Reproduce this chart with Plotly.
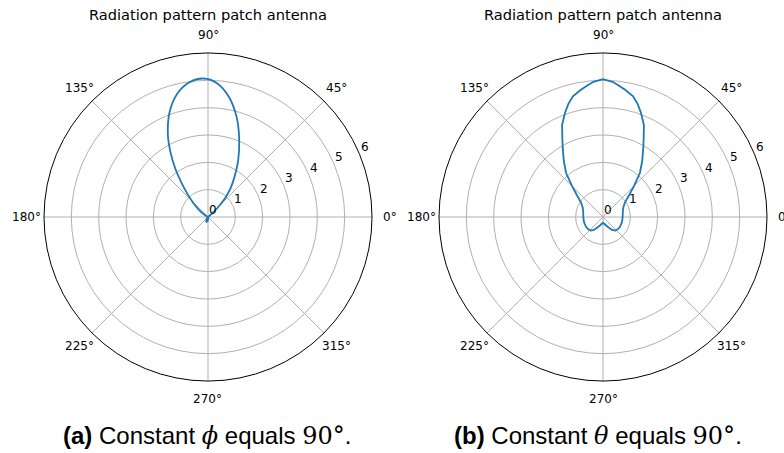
import math
import plotly.graph_objects as go

# ---- data ----
theta_a = [36, 40, 44, 48, 52, 57, 62, 68, 74, 80, 86, 92, 98, 104, 110, 116, 120, 124, 128, 132, 137, 142, 148, 155, 180,
           225, 240, 252, 264, 276, 300, 396]
r_a = [0.0, 0.1, 0.5, 0.95, 1.35, 1.8, 2.35, 3.05, 3.8, 4.45, 4.9, 5.07, 4.97, 4.65, 4.1, 3.35, 2.75, 2.15, 1.55, 1.1, 0.7, 0.4, 0.15, 0.03, 0.0,
       0.03, 0.12, 0.19, 0.14, 0.04, 0.0, 0.0]

theta_b_half = [90, 94, 97, 100, 104, 107, 110, 114, 117, 120, 125, 130, 135, 140, 147, 155, 165, 180, 195, 210, 220, 228, 235, 241, 250, 260, 270]
r_b_half = [5.04, 4.96, 4.84, 4.72, 4.55, 4.33, 4.06, 3.68, 3.28, 2.95, 2.5, 2.1, 1.6, 1.25, 0.95, 0.82, 0.75, 0.72, 0.72, 0.72, 0.70, 0.67, 0.58, 0.45, 0.33, 0.25, 0.21]
# the pattern in (b) is symmetric about 90°/270°
theta_b = theta_b_half + [540 - t for t in reversed(theta_b_half[:-1])]
r_b = r_b_half + list(reversed(r_b_half[:-1]))

angle_ticks = [0, 45, 90, 135, 180, 225, 270, 315]
radial_ticks = [0, 1, 2, 3, 4, 5, 6]
title_text = "Radiation pattern patch antenna"
captions = ["<b>(a)</b> Constant <span style='font-family:DejaVu Serif'><i>ϕ</i></span> equals <span style='font-family:DejaVu Serif'>90°</span>.",
            "<b>(b)</b> Constant <span style='font-family:DejaVu Serif'><i>θ</i></span> equals <span style='font-family:DejaVu Serif'>90°</span>."]

W, H = 784, 453
R = 164
CY = 217
CENTERS = [208, 603]
RMAX = 6
LINE = "#1f77b4"

fig = go.Figure()
fig.add_trace(go.Scatterpolar(theta=theta_a, r=r_a, mode="lines", line=dict(color=LINE, width=1.8, shape="spline"),
                              subplot="polar", showlegend=False))
fig.add_trace(go.Scatterpolar(theta=theta_b, r=r_b, mode="lines", line=dict(color=LINE, width=1.8, shape="linear"),
                              subplot="polar2", showlegend=False))

def polar_cfg(cx):
    return dict(
        domain=dict(x=[(cx - R) / W, (cx + R) / W], y=[1 - (CY + R) / H, 1 - (CY - R) / H]),
        bgcolor="white",
        angularaxis=dict(rotation=0, direction="counterclockwise", tickmode="array", tickvals=angle_ticks,
                         showticklabels=False, ticks="", showline=True, linecolor="black",
                         linewidth=1, gridcolor="#b0b0b0", gridwidth=0.8),
        radialaxis=dict(range=[0, RMAX], tickmode="array", tickvals=radial_ticks, angle=22.5,
                        showticklabels=False, showline=False, ticks="", gridcolor="#b0b0b0", gridwidth=0.8),
    )

fig.update_layout(
    width=W, height=H, margin=dict(l=0, r=0, t=0, b=0),
    paper_bgcolor="white", plot_bgcolor="white",
    polar=polar_cfg(CENTERS[0]), polar2=polar_cfg(CENTERS[1]),
)

LABEL_R = 182
RAD_ANGLE = math.radians(22.5)
for cx in CENTERS:
    # angular tick labels outside the circle (matplotlib style)
    for a in angle_ticks:
        x = cx + LABEL_R * math.cos(math.radians(a))
        y = CY - LABEL_R * math.sin(math.radians(a))
        fig.add_annotation(text=f"{a}°", x=x / W, y=1 - y / H, xref="paper", yref="paper", showarrow=False,
                           xanchor="center", yanchor="middle", font=dict(family="DejaVu Sans", size=12, color="black"))
    # radial tick labels along the 22.5° direction
    for k in radial_ticks:
        x = cx + k * R / RMAX * math.cos(RAD_ANGLE) + 5
        y = CY - k * R / RMAX * math.sin(RAD_ANGLE) - 7.5
        fig.add_annotation(text=str(k), x=x / W, y=1 - y / H, xref="paper", yref="paper", showarrow=False,
                           xanchor="center", yanchor="middle", font=dict(family="DejaVu Sans", size=12, color="black"))
    fig.add_annotation(text=title_text, x=cx / W, y=1 - 15 / H, xref="paper", yref="paper", showarrow=False,
                       xanchor="center", yanchor="middle", font=dict(family="DejaVu Sans", size=14.6, color="black"))

for cx, cap in zip([207, 598], captions):
    fig.add_annotation(text=cap, x=cx / W, y=1 - 436 / H, xref="paper", yref="paper", showarrow=False,
                       xanchor="center", yanchor="middle", font=dict(family="Liberation Sans", size=24, color="black"))

fig.write_html("out.html")
